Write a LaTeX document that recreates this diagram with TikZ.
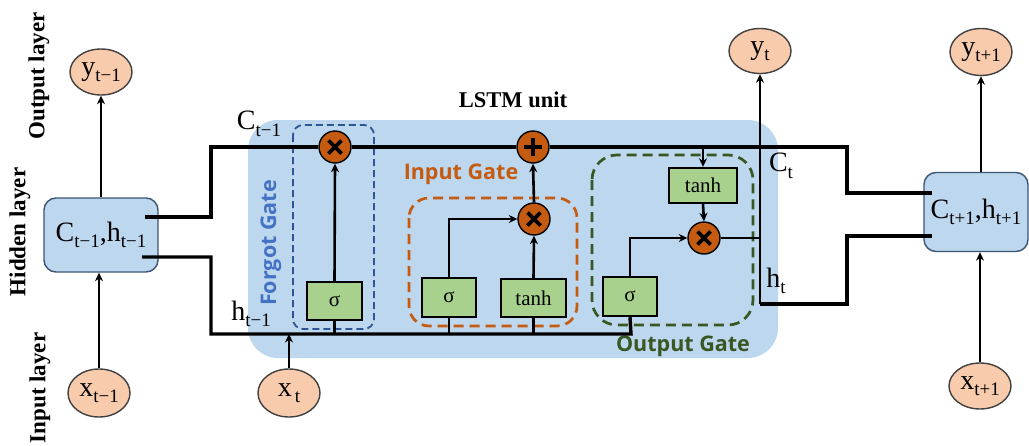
\documentclass[tikz,border=0pt]{standalone}
\usepackage{fontspec}
\setmainfont{Liberation Serif}
\newfontfamily\gatefont{Open Sans}
\usetikzlibrary{shapes.geometric,arrows.meta,calc}
\definecolor{unitbg}{HTML}{BDD7EE}
\definecolor{cellborder}{HTML}{3B5575}
\definecolor{peach}{HTML}{F8CBAD}
\definecolor{opcirc}{HTML}{C55A11}
\definecolor{gatefill}{HTML}{A9D18E}
\definecolor{fblue}{HTML}{2F5597}
\definecolor{fbluetext}{HTML}{4472C4}
\definecolor{iorange}{HTML}{C55A11}
\definecolor{ogreen}{HTML}{385723}
\newcommand{\lbl}[2]{{\fontsize{28}{28}\selectfont #1}\raisebox{-6.5pt}{\fontsize{19}{19}\selectfont #2}}
\newcommand{\cma}{{\fontsize{28}{28}\selectfont ,}}
\tikzset{
  io/.style={ellipse, draw=black!75, fill=peach, line width=1.4pt, minimum width=62pt, minimum height=46pt, inner sep=0pt},
  cellbox/.style={rectangle, rounded corners=12pt, draw=cellborder, fill=unitbg, line width=1.4pt, inner sep=0pt},
  gatebox/.style={rectangle, draw=black, line width=2.4pt, fill=gatefill, inner sep=0pt, font=\fontsize{21}{21}\selectfont},
  op/.style={circle, draw=black, line width=1.4pt, fill=opcirc, minimum size=32pt, inner sep=0pt},
  timesop/.style={op, path picture={
     \draw[line width=3.8pt] ([shift={(-6.5,-6.5)}]path picture bounding box.center) -- ([shift={(6.5,6.5)}]path picture bounding box.center);
     \draw[line width=3.8pt] ([shift={(-6.5,6.5)}]path picture bounding box.center) -- ([shift={(6.5,-6.5)}]path picture bounding box.center);}},
  plusop/.style={op, path picture={
     \draw[line width=3.8pt] ([shift={(-9,0)}]path picture bounding box.center) -- ([shift={(9,0)}]path picture bounding box.center);
     \draw[line width=3.8pt] ([shift={(0,-9)}]path picture bounding box.center) -- ([shift={(0,9)}]path picture bounding box.center);}},
  bus/.style={line width=3.4pt},
  wire/.style={line width=2.6pt},
  arr/.style={line width=2.6pt, -{Stealth[length=8.5pt,width=8pt]}},
  layerlbl/.style={rotate=90, font=\fontsize{23}{23}\selectfont\bfseries},
  gatelbl/.style={font=\gatefont\fontsize{21.5}{21.5}\selectfont\bfseries},
  fdash/.style={draw=fblue, line width=1.8pt, dash pattern=on 7pt off 4pt, rounded corners=10pt},
  idash/.style={draw=iorange, line width=2.7pt, dash pattern=on 10pt off 6pt, rounded corners=20pt},
  odash/.style={draw=ogreen, line width=2.7pt, dash pattern=on 10pt off 6pt, rounded corners=25pt},
}
\begin{document}
\begin{tikzpicture}[x=1pt,y=-1pt]
\useasboundingbox (0,0) rectangle (1029,445);
% LSTM unit background
\fill[unitbg, rounded corners=30pt] (248,120) rectangle (778,358);
\node[font=\fontsize{22.5}{22.5}\selectfont\bfseries] (title) at (513,100) {LSTM unit};
% layer labels
\node[layerlbl] (outl) at (39,76) {Output layer};
\node[layerlbl] (hidl) at (20,232) {Hidden layer};
\node[layerlbl] (inl) at (40,388) {Input layer};
% dashed gate frames
\draw[fdash] (293,125) rectangle (374,329);
\draw[idash] (409,198) rectangle (577,326);
\draw[odash] (592,155) rectangle (753,325);
\node[gatelbl, text=fbluetext, rotate=90] (fgl) at (271,243) {Forgot Gate};
\node[gatelbl, text=iorange] (igl) at (461,174) {Input Gate};
\node[gatelbl, text=ogreen] (ogl) at (683,346) {Output Gate};
% outer cells
\node[io] (ytm1) at (101,72) {\lbl{y}{t−1}};
\node[io, minimum height=48pt] (xtm1) at (99,393) {\lbl{x}{t−1}};
\node[cellbox, minimum width=114pt, minimum height=74pt] (lcell) at (101,235) {\lbl{C}{t−1}\cma\lbl{h}{t−1}};
\node[io, minimum height=48pt] (xt) at (289,393) {\lbl{x}{\,t}};
\node[io, minimum height=45pt] (yt) at (760,51) {\lbl{y}{t}};
\node[io, minimum height=47pt] (ytp1) at (981,52) {\lbl{y}{t+1}};
\node[io, minimum height=46pt] (xtp1) at (980,386) {\lbl{x}{t+1}};
\node[cellbox, minimum width=104pt, minimum height=79pt] (rcell) at (976,212) {\lbl{C}{t+1}\cma\lbl{h}{t+1}};
% gate boxes
\node[gatebox, minimum width=55pt, minimum height=38pt] (fsig) at (334.5,301) {σ};
\node[gatebox, minimum width=54pt, minimum height=39pt] (isig) at (449,297.5) {σ};
\node[gatebox, minimum width=65pt, minimum height=38pt] (itanh) at (533.5,298) {tanh};
\node[gatebox, minimum width=54pt, minimum height=39pt] (osig) at (630,296.5) {σ};
\node[gatebox, minimum width=68pt, minimum height=35pt] (otanh) at (703,185.5) {tanh};
% operators
\node[timesop] (fx) at (335,147) {};
\node[plusop] (plus) at (533,147) {};
\node[timesop] (ix) at (534,219) {};
\node[timesop] (ox) at (704,238) {};
% coordinates
\coordinate (lcout) at (145,217);
\coordinate (lhout) at (142,257);
\coordinate (cbend) at (211,147);
\coordinate (hbend) at (211,334);
\coordinate (cend) at (847,147);
\coordinate (rcin) at (932,193);
\coordinate (ht) at (760,304);
\coordinate (rhin) at (932,236);
\coordinate (hbus) at (631,334);
% cell state line
\draw[bus] (lcout) -| (cbend) -- (fx.west);
\draw[bus] (fx.east) -- (plus.west);
\draw[bus] (plus.east) -- (cend) |- (rcin);
% hidden state line
\draw[bus] (lhout) -| (hbend) -- (hbus) -- (osig.south);
% gate feeds
\draw[wire] (fsig.south) -- (fsig.south |- hbus);
\draw[wire] (isig.south) -- (isig.south |- hbus);
\draw[wire] (itanh.south) -- (itanh.south |- hbus);
\draw[arr] (xt.north) -- (xt.north |- hbus);
% gate internals
\draw[arr] (fsig.north) -- (fx.south);
\draw[arr] (isig.north) |- (ix.west);
\draw[arr] (itanh.north) -- (ix.south);
\draw[arr] (ix.north) -- (plus.south);
\draw[arr] (otanh.north |- plus) -- (otanh.north);
\draw[arr] (otanh.south) -- (ox.north);
\draw[arr] (osig.north) |- (ox.west);
\draw[wire] (ox.east) -- (ox.east -| ht);
% output line
\draw[arr] (ht) -- (yt.south);
\draw[bus] (ht) -- (ht -| cend) |- (rhin);
% outer arrows
\draw[arr] (lcell.north) -- (ytm1.south);
\draw[arr] (xtm1.north) -- (xtm1.north |- lcell.south);
\draw[arr] (rcell.north -| ytp1) -- (ytp1.south);
\draw[arr] (xtp1.north) -- (xtp1.north |- rcell.south);
% state labels
\node (clbl) at (259,124) {\lbl{C}{t−1}};
\node (hlbl) at (251,314) {\lbl{h}{t−1}};
\node (ctlbl) at (781,166) {\lbl{C}{t}};
\node (htlbl) at (776,281) {\lbl{h}{t}};
\end{tikzpicture}
\end{document}
